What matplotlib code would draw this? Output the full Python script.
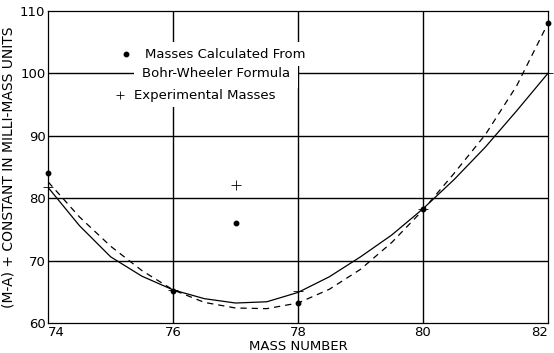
import matplotlib
matplotlib.use('Agg')
import matplotlib.pyplot as plt

# points
mass = [74, 76, 77, 78, 80, 82]
calc = [84.0, 65.2, 76.1, 63.2, 78.2, 108.1]   # Bohr-Wheeler formula
expt = [81.8, 65.3, 82.1, 65.2, 78.3, 100.0]   # experimental

# curves
curve_x = [74, 74.5, 75, 75.5, 76, 76.5, 77, 77.5, 78, 78.5, 79, 79.5, 80, 80.5, 81, 81.5, 82]
solid_y = [81.7, 75.6, 70.6, 67.5, 65.3, 63.9, 63.2, 63.4, 64.9, 67.4, 70.6, 74.1, 78.3, 83.0, 88.2, 94.0, 100.0]
dash_y = [82.6, 77.0, 72.3, 68.4, 65.3, 63.3, 62.4, 62.3, 63.2, 65.4, 68.6, 72.9, 78.1, 84.0, 90.2, 98.0, 108.0]

xticks = [74, 76, 78, 80, 82]
yticks = [60, 70, 80, 90, 100, 110]

plt.rcParams['font.family'] = ['DejaVu Sans']

fig = plt.figure(figsize=(5.54, 3.53), dpi=100)
ax = fig.add_axes([0.087, 0.085, 0.902, 0.884])

# grid
for x in xticks[1:-1]:
    ax.axvline(x, color='black', lw=1.0, zorder=1)
for y in yticks[1:-1]:
    ax.axhline(y, color='black', lw=1.0, zorder=1)

ax.plot(curve_x, solid_y, color='black', lw=0.9, zorder=3)
ax.plot(curve_x, dash_y, color='black', lw=0.9, ls=(0, (5, 4)), zorder=3)

ax.plot(mass, calc, 'o', color='black', ms=3.2, zorder=4, clip_on=False)
ax.plot(mass, expt, '+', color='black', ms=7, mew=0.6, zorder=4, clip_on=False)

# legend written in the plot
box = dict(facecolor='white', edgecolor='none', pad=4)
ax.plot([75.25], [103.1], 'o', color='black', ms=3.2, zorder=6)
ax.text(75.55, 103.1, 'Masses Calculated From', fontsize=9.5, va='center', ha='left', bbox=box, zorder=5)
ax.text(75.5, 100.0, 'Bohr-Wheeler Formula', fontsize=9.5, va='center', ha='left',
        bbox=dict(facecolor='white', edgecolor='none', pad=6), zorder=5)
ax.plot([75.15], [96.5], '+', color='black', ms=6, mew=0.6, zorder=6)
ax.text(75.38, 96.5, 'Experimental Masses', fontsize=9.5, va='center', ha='left', bbox=box, zorder=5)

ax.set_xlim(74, 82)
ax.set_ylim(60, 110)
ax.set_xticks(xticks)
ax.set_yticks(yticks)
ax.tick_params(length=0, labelsize=9.5, pad=2)
ax.get_xticklabels()[0].set_ha('left')
ax.get_xticklabels()[-1].set_ha('right')
for s in ax.spines.values():
    s.set_linewidth(0.9)

ax.set_xlabel('MASS NUMBER', fontsize=9.5, labelpad=1)
ax.set_ylabel('(M-A) + CONSTANT IN MILLI-MASS UNITS', fontsize=10, labelpad=3)

plt.savefig('out.png', dpi=100)
